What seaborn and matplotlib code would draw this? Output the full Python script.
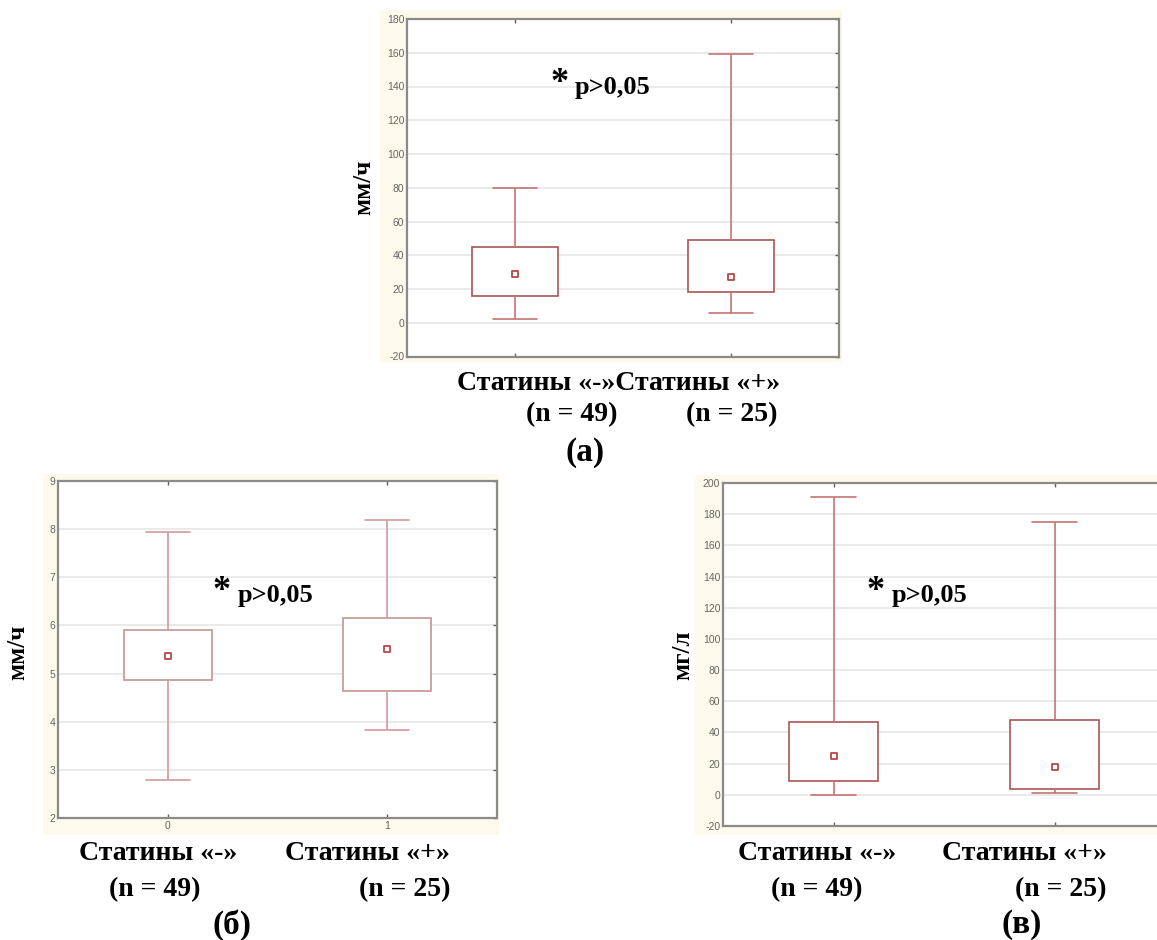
import numpy as np
import pandas as pd
import matplotlib
matplotlib.use("Agg")
import matplotlib.pyplot as plt
from matplotlib.patches import Rectangle
import seaborn as sns

# Groups
group_codes = ["0", "1"]
group_names = ["Статины «-»", "Статины «+»"]
group_sizes = [49, 25]

# Five-number summaries (min, Q1, median, Q3, max) for each group
esr_neg = [2, 16, 29, 45, 80]
esr_pos = [6, 18, 27, 49, 159.5]
mid_neg = [2.79, 4.87, 5.37, 5.91, 7.95]
mid_pos = [3.83, 4.63, 5.51, 6.16, 8.20]
crp_neg = [0, 9, 25, 47, 191]
crp_pos = [1, 4, 18, 48, 175]

# Axis ticks and labels
ticks_a = list(range(-20, 181, 20))
ticks_b = list(range(2, 10))
ticks_c = list(range(-20, 201, 20))
unit_a = "мм/ч"
unit_b = "мм/ч"
unit_c = "мг/л"
panel_tags = ["(а)", "(б)", "(в)"]
p_label = "p>0,05"

W, H = 1157, 940
sns.set_theme(style="white")
plt.rcParams["font.family"] = ["Liberation Sans", "DejaVu Sans"]
plt.rcParams["axes.unicode_minus"] = False

fig = plt.figure(figsize=(W / 100, H / 100), dpi=100)
fig.patch.set_facecolor("white")

SERIF = ["Liberation Serif", "DejaVu Serif"]
CREAM = "#fdf9eb"


def fx(x):
    return x / W


def fy(y):
    return 1 - y / H


def cream(x0, y0, x1, y1):
    fig.patches.append(Rectangle((fx(x0), fy(y1)), fx(x1) - fx(x0), fy(y0) - fy(y1),
                                 transform=fig.transFigure, facecolor=CREAM,
                                 edgecolor="none", zorder=-5))


def axes_px(x0, y0, x1, y1):
    ax = fig.add_axes([fx(x0), fy(y1), fx(x1) - fx(x0), fy(y0) - fy(y1)])
    ax.set_zorder(2)
    return ax


def draw_panel(ax, neg, pos, ylim, yticks, box_color, whisker_color, show_codes):
    df = pd.DataFrame({"group": np.repeat(group_codes, 5), "value": neg + pos})
    ax.set_facecolor("white")
    ax.grid(axis="y", color="#e8e8e8", lw=1.3)
    ax.grid(axis="x", visible=False)
    ax.set_axisbelow(True)
    sns.boxplot(data=df, x="group", y="value", order=group_codes, whis=(0, 100),
                width=0.4, color="white", linecolor=box_color, linewidth=1.2,
                whiskerprops={"color": whisker_color},
                capprops={"color": whisker_color},
                medianprops={"visible": False}, showfliers=False, ax=ax)
    med = pd.DataFrame({"group": group_codes, "value": [neg[2], pos[2]]})
    sns.stripplot(data=med, x="group", y="value", order=group_codes, jitter=False,
                  marker="s", size=4.5, color="white", edgecolor="#b84848",
                  linewidth=1.3, ax=ax, zorder=6)
    ax.set_xlim(-0.5, 1.5)
    ax.set_ylim(*ylim)
    ax.set_yticks(yticks)
    ax.set_xticks([0, 1])
    ax.set_xticklabels(group_codes if show_codes else ["", ""])
    ax.set_xlabel("")
    ax.set_ylabel("")
    ax.tick_params(axis="both", which="both", direction="in", length=3, width=1,
                   color="#606060", left=False, right=True, top=True, bottom=True,
                   labelsize=7.5, labelcolor="#666666", pad=2)
    for s in ax.spines.values():
        s.set_visible(True)
        s.set_color("#8a8a8a")
        s.set_linewidth(1.6)


def ftext(x, y, s, size, **kw):
    fig.text(fx(x), fy(y), s, fontsize=size, fontweight="bold", family=SERIF,
             color="black", zorder=10, **kw)


# panel (а)
cream(380, 10, 842, 362)
ax_a = axes_px(407, 19, 839, 356.5)
draw_panel(ax_a, esr_neg, esr_pos, (-20, 180), ticks_a, "#a85555", "#c47474", False)

# panel (б)
cream(43, 474, 499, 835)
ax_b = axes_px(58, 481, 497, 818)
draw_panel(ax_b, mid_neg, mid_pos, (2, 9), ticks_b, "#c49595", "#d29a9a", True)

# panel (в)
cream(695, 475, 1157, 835)
ax_c = axes_px(723, 483, 1165, 826)
draw_panel(ax_c, crp_neg, crp_pos, (-20, 200), ticks_c, "#a85555", "#c47474", False)

# y-axis units
ftext(364, 187, unit_a, 18, rotation=90, ha="center", va="center")
ftext(18, 652, unit_b, 18, rotation=90, ha="center", va="center")
ftext(683, 655, unit_c, 18, rotation=90, ha="center", va="center")

# significance notes
for sx, px, base in [(560, 575, 94), (222, 238, 602), (876, 892, 602)]:
    ftext(sx, base - 2, "*", 26, ha="center", va="baseline")
    ftext(px, base, p_label, 19, ha="left", va="baseline")

# group captions under panel (а)
ftext(619, 383, group_names[0] + group_names[1], 20, ha="center", va="center")
ftext(572, 415, f"(n = {group_sizes[0]})", 20, ha="center", va="center")
ftext(732, 415, f"(n = {group_sizes[1]})", 20, ha="center", va="center")
ftext(585, 453, panel_tags[0], 24, ha="center", va="center")

# group captions under panel (б)
ftext(158, 853, group_names[0], 20, ha="center", va="center")
ftext(367, 853, group_names[1], 20, ha="center", va="center")
ftext(155, 890, f"(n = {group_sizes[0]})", 20, ha="center", va="center")
ftext(405, 890, f"(n = {group_sizes[1]})", 20, ha="center", va="center")
ftext(232, 925, panel_tags[1], 24, ha="center", va="center")

# group captions under panel (в)
ftext(817, 853, group_names[0], 20, ha="center", va="center")
ftext(1024, 853, group_names[1], 20, ha="center", va="center")
ftext(817, 890, f"(n = {group_sizes[0]})", 20, ha="center", va="center")
ftext(1061, 890, f"(n = {group_sizes[1]})", 20, ha="center", va="center")
ftext(1022, 925, panel_tags[2], 24, ha="center", va="center")

fig.savefig("out.png", dpi=100, facecolor="white")
